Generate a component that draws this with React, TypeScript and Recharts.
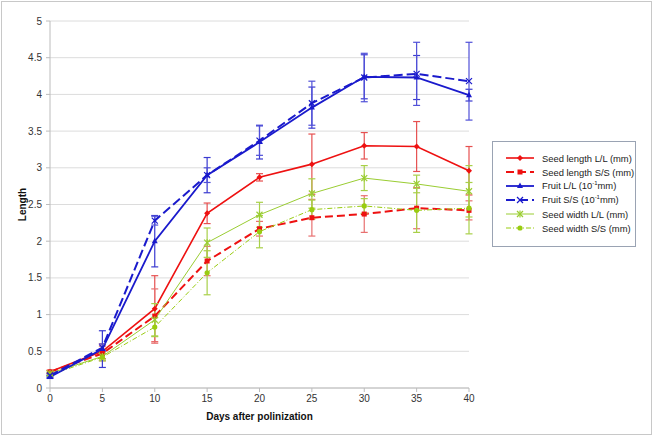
import React from 'react'
import { LineChart, Line, XAxis, YAxis, CartesianGrid, ErrorBar, Label } from 'recharts'

const days = [0, 5, 10, 15, 20, 25, 30, 35, 40]
const yTicks = [0, 0.5, 1, 1.5, 2, 2.5, 3, 3.5, 4, 4.5, 5]

const seedLengthLL = [0.22, 0.5, 1.08, 2.38, 2.87, 3.05, 3.3, 3.29, 2.96]
const seedLengthLLErr = [0.02, 0.1, 0.45, 0.14, 0.05, 0.41, 0.18, 0.34, 0.33]
const seedLengthSS = [0.22, 0.47, 0.98, 1.73, 2.17, 2.32, 2.37, 2.45, 2.42]
const seedLengthSSErr = [0.02, 0.1, 0.37, 0.2, 0.1, 0.25, 0.25, 0.28, 0.13]
const fruitLL = [0.15, 0.53, 2.0, 2.9, 3.35, 3.82, 4.24, 4.23, 3.99]
const fruitLLErr = [0.02, 0.25, 0.35, 0.24, 0.23, 0.28, 0.3, 0.3, 0.08]
const fruitSS = [0.17, 0.55, 2.28, 2.9, 3.37, 3.88, 4.23, 4.28, 4.18]
const fruitSSErr = [0.02, 0.05, 0.06, 0.1, 0.2, 0.3, 0.33, 0.43, 0.53]
const seedWidthLL = [0.2, 0.43, 0.93, 1.98, 2.36, 2.65, 2.86, 2.78, 2.68]
const seedWidthLLErr = [0.03, 0.05, 0.22, 0.2, 0.17, 0.2, 0.17, 0.12, 0.35]
const seedWidthSS = [0.18, 0.42, 0.83, 1.57, 2.13, 2.43, 2.48, 2.42, 2.45]
const seedWidthSSErr = [0.03, 0.05, 0.13, 0.3, 0.22, 0.13, 0.1, 0.3, 0.35]

const series = [
  { key: 'sLL', name: 'Seed length L/L (mm)', values: seedLengthLL, errs: seedLengthLLErr, color: '#ee1111', errColor: '#e65050', width: 1.6, dash: undefined, marker: 'diamond' },
  { key: 'sSS', name: 'Seed length S/S (mm)', values: seedLengthSS, errs: seedLengthSSErr, color: '#ee1111', errColor: '#e87070', width: 2, dash: '8 4', marker: 'square' },
  { key: 'wLL', name: 'Seed width L/L (mm)', values: seedWidthLL, errs: seedWidthLLErr, color: '#9acd32', errColor: '#a8d048', width: 1, dash: undefined, marker: 'star' },
  { key: 'wSS', name: 'Seed width S/S (mm)', values: seedWidthSS, errs: seedWidthSSErr, color: '#99cc11', errColor: '#a8d048', width: 1, dash: '5 2 1 2', marker: 'circle' },
  { key: 'fLL', name: 'Fruit L/L', values: fruitLL, errs: fruitLLErr, color: '#1a1acc', errColor: '#3a3ad0', width: 1.8, dash: undefined, marker: 'triangle' },
  { key: 'fSS', name: 'Fruit S/S', values: fruitSS, errs: fruitSSErr, color: '#1a1acc', errColor: '#5050d8', width: 2, dash: '9 4', marker: 'cross' },
]

const legendOrder = ['sLL', 'sSS', 'fLL', 'fSS', 'wLL', 'wSS']

const data = days.map((day, i) => {
  const row: Record<string, number> = { day }
  series.forEach((s) => {
    row[s.key] = s.values[i]
    row[s.key + 'Err'] = s.errs[i]
  })
  return row
})

const MarkerShape = ({ cx, cy, shape, color }: { cx: number; cy: number; shape: string; color: string }) => {
  switch (shape) {
    case 'diamond':
      return <polygon points={`${cx},${cy - 3} ${cx + 3},${cy} ${cx},${cy + 3} ${cx - 3},${cy}`} fill={color} />
    case 'square':
      return <rect x={cx - 2.5} y={cy - 2.5} width={5} height={5} fill={color} />
    case 'triangle':
      return <polygon points={`${cx},${cy - 3.5} ${cx + 3},${cy + 2} ${cx - 3},${cy + 2}`} fill={color} />
    case 'cross':
      return (
        <g stroke={color} strokeWidth={1.2}>
          <line x1={cx - 3} y1={cy - 3} x2={cx + 3} y2={cy + 3} />
          <line x1={cx - 3} y1={cy + 3} x2={cx + 3} y2={cy - 3} />
        </g>
      )
    case 'star':
      return (
        <g stroke={color} strokeWidth={1.2}>
          <line x1={cx - 3} y1={cy - 3} x2={cx + 3} y2={cy + 3} />
          <line x1={cx - 3} y1={cy + 3} x2={cx + 3} y2={cy - 3} />
          <line x1={cx} y1={cy - 3.5} x2={cx} y2={cy + 3.5} />
        </g>
      )
    default:
      return <circle cx={cx} cy={cy} r={2.6} fill={color} />
  }
}

const LegendBox = () => (
  <div
    style={{
      position: 'absolute',
      left: 492,
      top: 141,
      width: 142,
      height: 104,
      border: '1px solid #9aa3b3',
      background: '#fff',
      fontFamily: '"Liberation Sans", Arial, sans-serif',
      fontSize: 9.4,
      color: '#222',
    }}
  >
    {legendOrder.map((k, i) => {
      const s = series.find((x) => x.key === k)!
      const isFruit = k === 'fLL' || k === 'fSS'
      return (
        <div key={k} style={{ position: 'absolute', left: 12, top: 9 + i * 14, height: 14, display: 'flex', alignItems: 'center', whiteSpace: 'nowrap' }}>
          <svg width={30} height={10} style={{ marginRight: 7 }}>
            <line x1={1} y1={5} x2={29} y2={5} stroke={s.color} strokeWidth={s.width} strokeDasharray={s.dash} />
            <MarkerShape cx={15} cy={5} shape={s.marker} color={s.color} />
          </svg>
          {isFruit ? (
            <span>
              {k === 'fLL' ? 'Fruit L/L' : 'Fruit S/S'} (10<sup style={{ fontSize: 6 }}>-1</sup>mm)
            </span>
          ) : (
            <span>{s.name}</span>
          )}
        </div>
      )
    })}
  </div>
)

export default function App() {
  const tickStyle = { fontSize: 10, fill: '#333', fontFamily: '"Liberation Sans", Arial, sans-serif' }
  return (
    <div style={{ position: 'absolute', left: 0, top: 0, width: 656, height: 437, background: '#fff' }}>
      <div style={{ position: 'absolute', left: 1, top: 1, width: 649, height: 432, border: '1px solid #c8c8c8' }} />
      <LineChart width={656} height={437} data={data} margin={{ top: 21, right: 187, bottom: 0, left: 0 }}>
        <CartesianGrid vertical={false} stroke="#dcdcdc" />
        <XAxis
          dataKey="day"
          type="number"
          domain={[0, 40]}
          ticks={days}
          height={49}
          tick={tickStyle}
          tickSize={4}
          tickMargin={3}
          stroke="#bcbcbc"
          interval={0}
        >
          <Label
            value="Days after polinization"
            position="insideBottom"
            offset={17}
            style={{ fontSize: 10, fontWeight: 'bold', fill: '#111', fontFamily: '"Liberation Sans", Arial, sans-serif' }}
          />
        </XAxis>
        <YAxis
          type="number"
          domain={[0, 5]}
          ticks={yTicks}
          width={50}
          tick={tickStyle}
          tickSize={4}
          tickMargin={4}
          stroke="#bcbcbc"
          interval={0}
        >
          <Label
            value="Length"
            angle={-90}
            position="insideLeft"
            offset={22}
            style={{ fontSize: 10, fontWeight: 'bold', fill: '#111', textAnchor: 'middle', fontFamily: '"Liberation Sans", Arial, sans-serif' }}
          />
        </YAxis>
        {series.map((s) => (
          <Line
            key={s.key}
            dataKey={s.key}
            name={s.name}
            type="linear"
            stroke={s.color}
            strokeWidth={s.width}
            strokeDasharray={s.dash}
            isAnimationActive={false}
            dot={(p: any) => (
              <MarkerShape key={`${s.key}-${p.index}`} cx={p.cx} cy={p.cy} shape={s.marker} color={s.color} />
            )}
            activeDot={false}
          >
            <ErrorBar dataKey={s.key + 'Err'} width={3.5} strokeWidth={1.2} stroke={s.errColor} direction="y" isAnimationActive={false} />
          </Line>
        ))}
      </LineChart>
      <LegendBox />
    </div>
  )
}
